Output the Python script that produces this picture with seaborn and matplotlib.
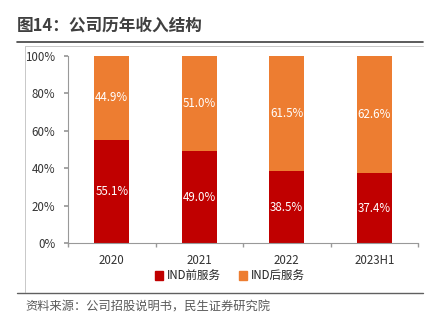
import matplotlib
matplotlib.use("Agg")
import matplotlib.pyplot as plt
import seaborn as sns
import pandas as pd
from matplotlib.lines import Line2D
from matplotlib.patches import Patch

categories = ["2020", "2021", "2022", "2023H1"]
pre_service = [55.1, 49.0, 38.5, 37.4]
post_service = [44.9, 51.0, 61.5, 62.6]
series_names = ["IND前服务", "IND后服务"]
yticks = [0, 20, 40, 60, 80, 100]

RED = "#C00000"
ORANGE = "#ED7D31"

sns.set_theme(style="white")
plt.rcParams["font.family"] = ["Noto Sans CJK SC", "DejaVu Sans"]

df = pd.DataFrame({"cat": categories, "pre": pre_service, "post": post_service})
df["total"] = df["pre"] + df["post"]

fig = plt.figure(figsize=(4.35, 3.23), dpi=100)
ax = fig.add_axes([68/435, 1-243/323, 350/435, (243-56)/323])

sns.barplot(data=df, x="cat", y="total", color=ORANGE, width=0.4, ax=ax,
            saturation=1, linewidth=0)
sns.barplot(data=df, x="cat", y="pre", color=RED, width=0.4, ax=ax,
            saturation=1, linewidth=0)

for i, (p, q) in enumerate(zip(pre_service, post_service)):
    ax.text(i, p/2, f"{p:.1f}%", ha="center", va="center", color="white", fontsize=8.3)
    ax.text(i, p + q/2, f"{q:.1f}%", ha="center", va="center", color="white", fontsize=8.3)

ax.set_xlim(-0.5, 3.5)
ax.set_ylim(0, 100)
ax.set_yticks(yticks)
ax.set_yticklabels([f"{t}%" for t in yticks], fontsize=8.3, color="#333333")
ax.set_xticks(range(len(categories)))
ax.set_xticklabels(categories, fontsize=8.3, color="#333333")
ax.tick_params(axis="x", length=0, pad=8)
ax.set_xticks([-0.5, 0.5, 1.5, 2.5, 3.5], minor=True)
ax.tick_params(axis="x", which="minor", length=3, color="#999999", direction="out", bottom=True)
ax.tick_params(axis="y", length=3, color="#999999", direction="out", left=True, pad=6)
ax.set_xlabel("")
ax.set_ylabel("")
for s in ["top", "right"]:
    ax.spines[s].set_visible(False)
for s in ["left", "bottom"]:
    ax.spines[s].set_color("#999999")
    ax.spines[s].set_linewidth(0.8)

handles = [Patch(color=RED, label=series_names[0]), Patch(color=ORANGE, label=series_names[1])]
fig.legend(handles=handles, loc="center", bbox_to_anchor=(230/435, 1-276/323), ncol=2,
           frameon=False, fontsize=8.3, handlelength=0.7, handleheight=0.7,
           handletextpad=0.3, columnspacing=1.6)

# title and frame
fig.text(17/435, 1-31/323, "图14：公司历年收入结构", fontsize=12, fontweight="bold",
         color="#404040", va="baseline", ha="left")
fig.add_artist(Line2D([17/435, 423/435], [1-42/323, 1-42/323], color="#404040", lw=1.2,
                      transform=fig.transFigure))
fig.add_artist(Line2D([25/435, 423/435], [1-45.5/323, 1-45.5/323], color="#c8c8c8", lw=0.7,
                      transform=fig.transFigure))
fig.add_artist(Line2D([25.5/435, 25.5/435], [1-45.5/323, 1-292/323], color="#c8c8c8", lw=0.7,
                      transform=fig.transFigure))
fig.add_artist(Line2D([17/435, 423/435], [1-293/323, 1-293/323], color="#606060", lw=1.0,
                      transform=fig.transFigure))
fig.text(25/435, 1-307/323, "资料来源：公司招股说明书，民生证券研究院", fontsize=8.8,
         color="#595959", va="center", ha="left")

fig.savefig("out.png", dpi=100)
